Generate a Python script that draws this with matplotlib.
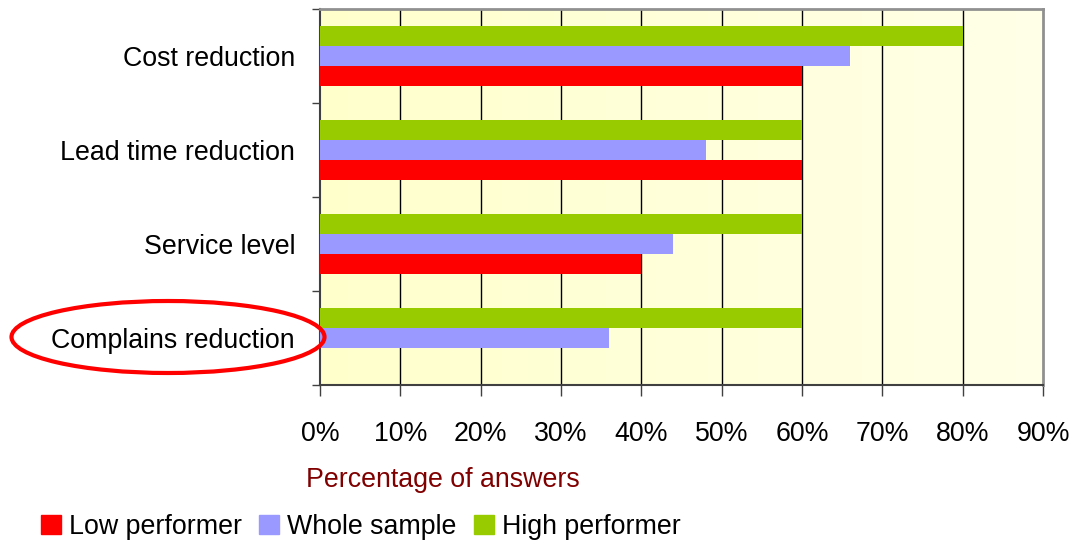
import numpy as np
import matplotlib
matplotlib.use("Agg")
import matplotlib.pyplot as plt
from matplotlib.patches import Patch, Ellipse
from matplotlib.colors import LinearSegmentedColormap

plt.rcParams['font.family'] = ['Liberation Sans', 'DejaVu Sans']

# Data (percent of answers)
categories = ["Cost reduction", "Lead time reduction", "Service level", "Complains reduction"]
low_performer = [60, 60, 40, 0]
whole_sample = [66, 48, 44, 36]
high_performer = [80, 60, 60, 60]
x_ticks = [0, 10, 20, 30, 40, 50, 60, 70, 80, 90]

col_low = "#FF0000"
col_whole = "#9999FF"
col_high = "#99CC00"
fs = 19.3

fig = plt.figure(figsize=(10.71, 5.45), dpi=100)
ax = fig.add_axes([320 / 1071, 1 - 385 / 545, 723 / 1071, 376 / 545])

# light yellow gradient background
grad = np.linspace(0, 1, 256).reshape(1, -1)
cmap = LinearSegmentedColormap.from_list("bg", ["#FFFFCC", "#FFFFE8"])
ax.imshow(grad, extent=[0, 90, -0.5, 3.5], aspect="auto", cmap=cmap, zorder=0)

# y positions: top category first
y = np.arange(len(categories))[::-1]
h = 0.215
ax.barh(y + h, high_performer, height=h, color=col_high, zorder=3)
ax.barh(y, whole_sample, height=h, color=col_whole, zorder=3)
ax.barh(y - h, low_performer, height=h, color=col_low, zorder=3)

ax.set_xlim(0, 90)
ax.set_ylim(-0.5, 3.5)

# vertical gridlines
for t in x_ticks[1:-1]:
    ax.axvline(t, color="#000000", lw=1, zorder=2)

ax.set_xticks(x_ticks)
ax.set_xticklabels([f"{t}%" for t in x_ticks], fontsize=fs)
ax.tick_params(axis="x", direction="out", length=8, width=1, color="#404040", pad=18)

# category ticks at boundaries, labels at centers
ax.set_yticks(np.arange(-0.5, 4, 1))
ax.set_yticklabels([])
ax.set_yticks(y, minor=True)
ax.set_yticklabels(categories, minor=True, fontsize=fs)
ax.tick_params(axis="y", which="major", direction="out", length=6, width=1, color="#404040")
ax.tick_params(axis="y", which="minor", length=0, pad=18)

for s in ["left", "bottom"]:
    ax.spines[s].set_color("#404040")
    ax.spines[s].set_linewidth(1.5)
for s in ["top", "right"]:
    ax.spines[s].set_color("#909090")
    ax.spines[s].set_linewidth(2)

fig.text(306 / 1071, 1 - 480 / 545, "Percentage of answers", fontsize=fs,
         color="#800000", va="center", ha="left")

handles = [Patch(color=col_low, label="Low performer"),
           Patch(color=col_whole, label="Whole sample"),
           Patch(color=col_high, label="High performer")]
fig.legend(handles=handles, loc="center left", bbox_to_anchor=(30 / 1071, 1 - 527 / 545),
           ncol=3, frameon=False, fontsize=fs, handlelength=0.75, handleheight=0.75,
           handletextpad=0.3, columnspacing=0.65, borderaxespad=0)

# red ellipse around the last category
ell = Ellipse((168 / 1071, 1 - 337 / 545), 313 / 1071, 72 / 545, transform=fig.transFigure,
              fill=False, edgecolor="#FF0000", lw=3, zorder=10)
fig.add_artist(ell)

fig.savefig("out.png", dpi=100)
